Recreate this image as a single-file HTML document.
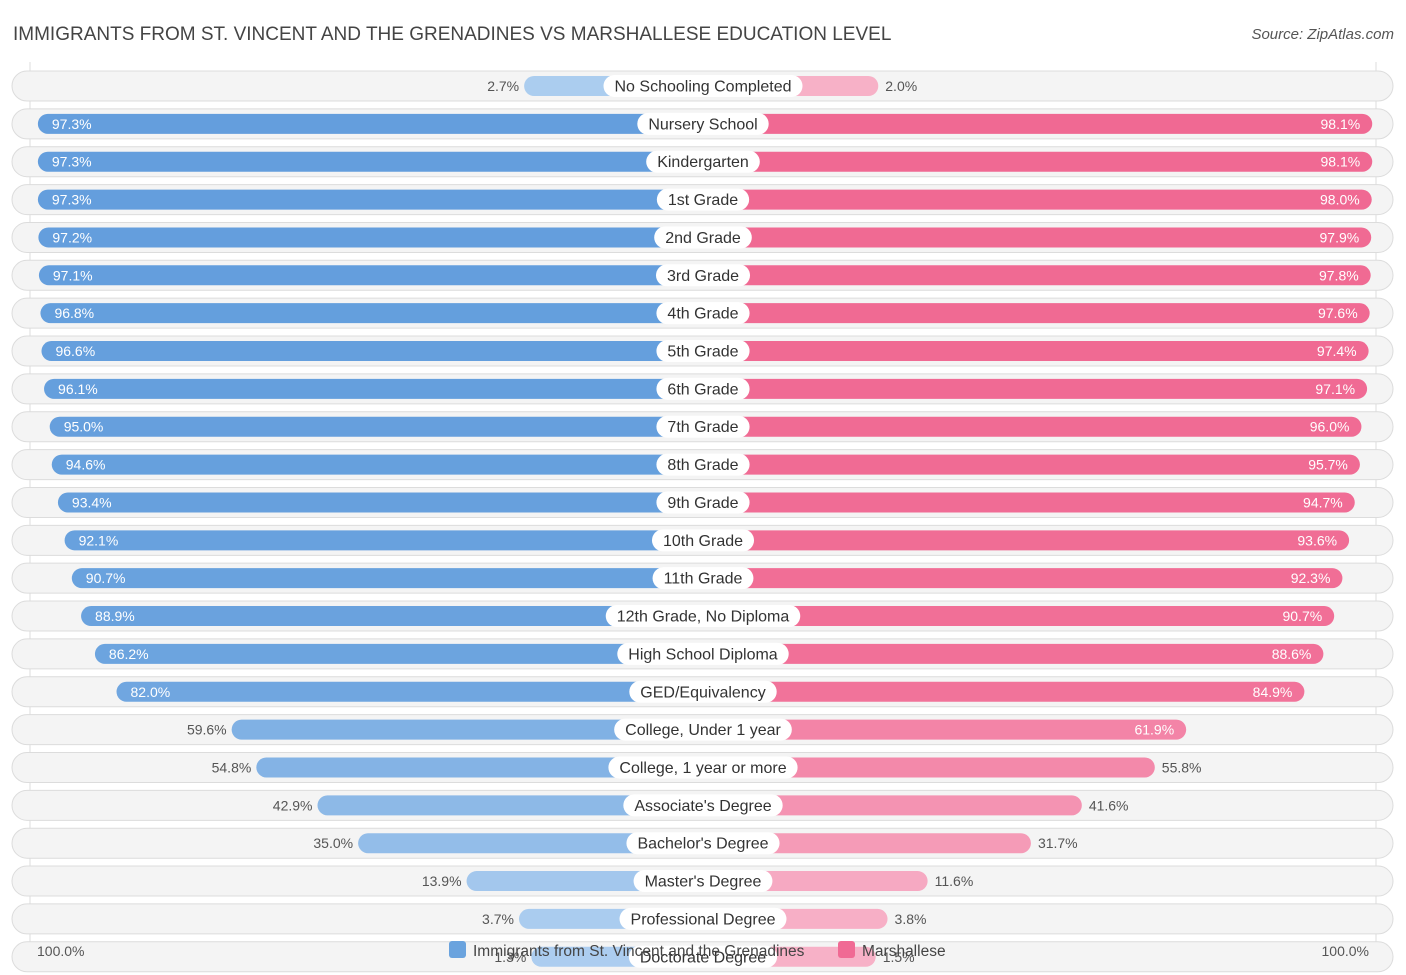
<!DOCTYPE html>
<html><head><meta charset="utf-8">
<style>
body{margin:0;background:#fff;font-family:"Liberation Sans",sans-serif;}
#wrap{position:relative;width:1406px;height:975px;overflow:hidden;}
</style></head>
<body><div id="wrap">
<svg id="svg" width="1406" height="975" xmlns="http://www.w3.org/2000/svg">
<text x="13" y="40" font-size="19" fill="#444">IMMIGRANTS FROM ST. VINCENT AND THE GRENADINES VS MARSHALLESE EDUCATION LEVEL</text>
<text x="1394" y="39" font-size="15" fill="#555" font-style="italic" text-anchor="end">Source: ZipAtlas.com</text>
<line x1="30" y1="62" x2="30" y2="960" stroke="#ddd"/>
<line x1="1376" y1="62" x2="1376" y2="960" stroke="#ddd"/>
<g id="rows"></g>
<text x="37" y="956" font-size="14" fill="#555">100.0%</text>
<text x="1369" y="956" font-size="14" fill="#555" text-anchor="end">100.0%</text>
<g><rect x="449" y="941" width="17" height="17" rx="3" fill="#6aa3de"/><text x="473" y="956" font-size="15.5" fill="#444">Immigrants from St. Vincent and the Grenadines</text></g>
<g><rect x="838" y="941" width="17" height="17" rx="3" fill="#f06a94"/><text x="862" y="956" font-size="15.5" fill="#444">Marshallese</text></g>
</svg></div>
<script>
const categories=["No Schooling Completed","Nursery School","Kindergarten","1st Grade","2nd Grade","3rd Grade","4th Grade","5th Grade","6th Grade","7th Grade","8th Grade","9th Grade","10th Grade","11th Grade","12th Grade, No Diploma","High School Diploma","GED/Equivalency","College, Under 1 year","College, 1 year or more","Associate's Degree","Bachelor's Degree","Master's Degree","Professional Degree","Doctorate Degree"];
const immigrants=[2.7,97.3,97.3,97.3,97.2,97.1,96.8,96.6,96.1,95.0,94.6,93.4,92.1,90.7,88.9,86.2,82.0,59.6,54.8,42.9,35.0,13.9,3.7,1.3];
const marshallese=[2.0,98.1,98.1,98.0,97.9,97.8,97.6,97.4,97.1,96.0,95.7,94.7,93.6,92.3,90.7,88.6,84.9,61.9,55.8,41.6,31.7,11.6,3.8,1.5];
const NS="http://www.w3.org/2000/svg";
const cx=703, y0=86, pitch=37.86;
function w(v){return 165+5.14*v;}
function yPos(i){return y0+i*pitch;}
function mix(a,b,t){return "rgb("+a.map((x,k)=>Math.round(x+(b[k]-x)*t)).join(",")+")";}
const bLo=[173,206,240],bHi=[98,157,220],pLo=[247,178,200],pHi=[240,104,146];
const g=document.getElementById('rows');
function el(tag,attrs,parent){const e=document.createElementNS(NS,tag);for(const k in attrs)e.setAttribute(k,attrs[k]);parent.appendChild(e);return e;}
categories.forEach((c,i)=>{
  const y=yPos(i);
  const row=el('g',{},g);
  
  
  const bg=el('rect',{x:12,y:y-15,width:1381,height:30,rx:15,fill:'#f4f4f4',stroke:'#dcdcdc'},row);
  
  
  const lv=immigrants[i], rv=marshallese[i];
  const lw=w(lv), rw=w(rv);
  const lb=el('rect',{x:cx-lw,y:y-10,width:lw,height:20,rx:10,fill:mix(bLo,bHi,lv/100)},row);
  
  
  const rb=el('rect',{x:cx,y:y-10,width:rw,height:20,rx:10,fill:mix(pLo,pHi,rv/100)},row);
  
  
  const lin=lv>60, rin=rv>60;
  const lt=el('text',{x:lin?cx-lw+14:cx-lw-5,y:y+5,'font-size':14,fill:lin?'#fff':'#555','text-anchor':lin?'start':'end'},row);
  lt.textContent=lv.toFixed(1)+'%';
  
  
  const rt=el('text',{x:rin?cx+rw-12:cx+rw+7,y:y+5,'font-size':14,fill:rin?'#fff':'#555','text-anchor':rin?'end':'start'},row);
  rt.textContent=rv.toFixed(1)+'%';
  
  
  const lab=el('text',{x:cx,y:y+5.5,'font-size':16,fill:'#333','text-anchor':'middle'},row);
  lab.textContent=c;
  
  
  const tw=lab.getComputedTextLength();
  const pill=el('rect',{x:cx-tw/2-11,y:y-11,width:tw+22,height:22,rx:11,fill:'#fff'},row);
  
  
  row.insertBefore(pill,lab);
});
</script>
</body></html>
